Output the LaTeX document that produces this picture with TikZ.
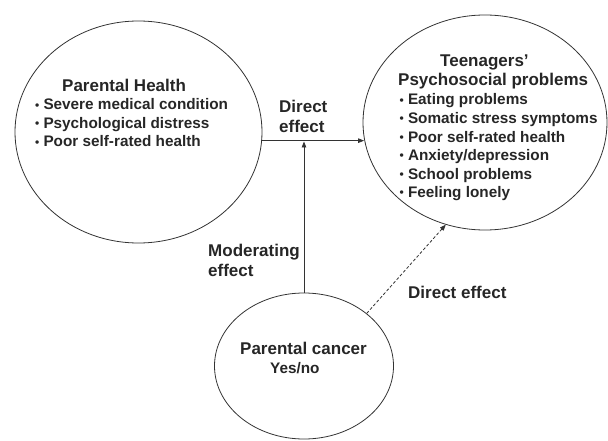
\documentclass[tikz,border=0pt]{standalone}
\usepackage{fontspec}
\setmainfont{Liberation Sans}
\usetikzlibrary{shapes.geometric,arrows.meta}
\newcommand{\mybul}{\makebox[8.3pt][l]{\raisebox{0.6pt}{\fontsize{12}{12}\selectfont•}}}
\begin{document}
\begin{tikzpicture}[x=1pt,y=1pt,
  oval/.style={draw=black!80, ellipse, inner sep=0pt, line width=0.8pt},
  ttl/.style={font=\fontsize{17}{17}\selectfont\bfseries, anchor=base west, inner sep=0pt, text=black!85},
  itm/.style={font=\fontsize{15.3}{15.3}\selectfont\bfseries, anchor=base west, inner sep=0pt, text=black!85},
  arr/.style={-{Triangle[length=6pt,width=4.5pt]}, line width=0.8pt, draw=black!80},
]
\useasboundingbox (0,0) rectangle (608,440);
% ellipses
\node[oval, minimum width=247pt, minimum height=222pt] (L) at (138.5,308) {};
\node[oval, minimum width=244pt, minimum height=215pt] (R) at (485,317.5) {};
\node[oval, minimum width=179pt, minimum height=146pt] (B) at (304,74) {};
% left texts
\node[ttl] (lt) at (62,348) {Parental Health};
\node[itm] (l1) at (35,330) {\mybul Severe medical condition};
\node[itm] (l2) at (35,311.5) {\mybul Psychological distress};
\node[itm] (l3) at (35,293) {\mybul Poor self-rated health};
% right texts
\node[ttl] (rt1) at (440,373) {Teenagers’};
\node[ttl] (rt2) at (398,354) {Psychosocial problems};
\node[itm] (r1) at (399.5,335) {\mybul Eating problems};
\node[itm] (r2) at (399.5,316.5) {\mybul Somatic stress symptoms};
\node[itm] (r3) at (399.5,298) {\mybul Poor self-rated health};
\node[itm] (r4) at (399.5,279.5) {\mybul Anxiety/depression};
\node[itm] (r5) at (399.5,261) {\mybul School problems};
\node[itm] (r6) at (399.5,242.5) {\mybul Feeling lonely};
% bottom texts
\node[ttl] (bt) at (240,86) {Parental cancer};
\node[itm] (b1) at (270,67) {Yes/no};
% labels
\node[ttl] (d1a) at (279,327) {Direct};
\node[ttl] (d1b) at (279,307) {effect};
\node[ttl] (ma) at (208,184) {Moderating};
\node[ttl] (mb) at (208,164) {effect};
\node[ttl] (d2) at (408,142) {Direct effect};
% connectors
\coordinate (m) at (304,298.5);
\draw[arr] (L.356) -- (L.356 -| R.188.6);
\draw[arr] (B.north) -- (m);
\draw[arr, dash pattern=on 3pt off 2pt] (B.40) -- (R.249);
\end{tikzpicture}
\end{document}
